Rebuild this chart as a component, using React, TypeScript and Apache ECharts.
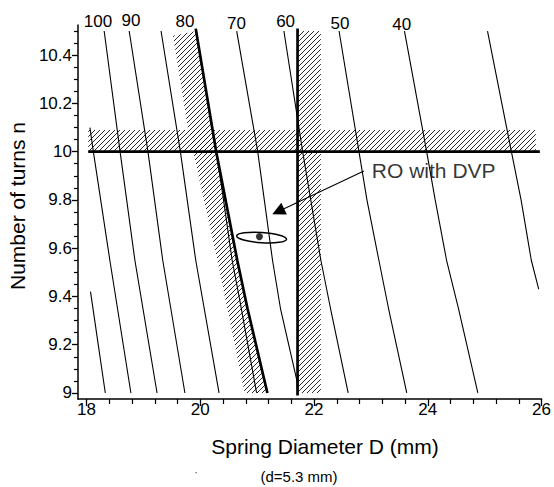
import React, { useEffect, useRef } from 'react';
import * as echarts from 'echarts';

// ---- axes ----
const xRange = [17.85, 26];
const yRange = [8.975, 10.525];
const xMajorTicks = [18, 20, 22, 24, 26];
const xMinorTicks = [18.4, 18.8, 19.2, 19.6, 20.4, 20.8, 21.2, 21.6, 22.4, 22.8, 23.2, 23.6, 24.4, 24.8, 25.2, 25.6];
const yMajorTicks = [9, 9.2, 9.4, 9.6, 9.8, 10, 10.2, 10.4];
const yMinorTicks = [9.05, 9.1, 9.15, 9.25, 9.3, 9.35, 9.45, 9.5, 9.55, 9.65, 9.7, 9.75, 9.85, 9.9, 9.95, 10.05, 10.1, 10.15, 10.25, 10.3, 10.35, 10.45, 10.5];

// ---- contour lines [D, n] ----
const lineShort = [[18.07, 9.42], [18.33, 9.0]];
const line110 = [[18.06, 10.1], [18.12, 10.0], [18.41, 9.55], [18.78, 9.0]];
const line100 = [[18.31, 10.5], [18.59, 10.0], [18.85, 9.55], [19.24, 9.0]];
const line90 = [[18.75, 10.5], [19.08, 10.0], [19.34, 9.55], [19.73, 9.0]];
const line85 = [[19.31, 10.5], [19.65, 10.0], [19.92, 9.55], [20.33, 9.0]];
const line80 = [[19.92, 10.5], [20.28, 10.0], [20.39, 9.83], [20.56, 9.55], [20.69, 9.39], [20.99, 9.0]];
const line70 = [[20.64, 10.5], [21.01, 10.0], [21.27, 9.55], [21.41, 9.35], [21.7, 9.05], [21.71, 9.0]];
const line60 = [[21.47, 10.5], [21.8, 10.0], [22.12, 9.55], [22.29, 9.35], [22.6, 9.0]];
const line50 = [[22.44, 10.5], [22.79, 10.0], [22.93, 9.8], [23.14, 9.55], [23.31, 9.35], [23.63, 9.0]];
const line40 = [[23.59, 10.5], [23.98, 10.0], [24.13, 9.8], [24.33, 9.55], [24.54, 9.35], [24.88, 9.0]];
const line30 = [[25.05, 10.5], [25.47, 10.0], [25.64, 9.8], [25.82, 9.55], [25.95, 9.43]];

// ---- contour labels ----
const contourLabels = ['100', '90', '80', '70', '60', '50', '40'];
const contourLabelD = [18.2, 18.78, 19.73, 20.635, 21.5, 22.456, 23.54];
const contourLabelN = [10.538, 10.542, 10.541, 10.532, 10.54, 10.532, 10.528];

// ---- constraint boundaries (thick) ----
const boundSlanted = [[19.92, 10.51], [20.28, 10.0], [20.65, 9.55], [20.83, 9.35], [21.18, 9.0]];
const boundVertical = [[21.71, 10.51], [21.71, 8.99]];
const boundHorizontal = [[18.03, 10.0], [25.97, 10.0]];

// ---- hatched infeasible bands ----
const hatchHorizontal = [[18.03, 10.0], [25.9, 10.0], [25.9, 10.09], [18.03, 10.09]];
const hatchVertical = [[21.71, 9.0], [22.12, 9.0], [22.12, 10.5], [21.71, 10.5]];
const hatchSlanted = [[19.52, 10.48], [19.93, 10.5], [20.28, 10.0], [20.65, 9.55], [20.83, 9.35], [21.18, 9.0], [20.78, 9.0], [20.3, 9.55], [19.78, 10.1]];

// ---- optimum point with ellipse ----
const optimumPoint = [21.04, 9.648];
const ellipseCenter = [21.078, 9.644];
const ellipseRadius = [0.44, 0.021];
const arrowFrom = [22.876, 9.92];
const arrowTo = [21.37, 9.752];
const annotationText = 'RO with DVP';

const SANS = '"Liberation Sans", Arial, sans-serif';

export default function App() {
  const ref = useRef<HTMLDivElement>(null);
  useEffect(() => {
    document.body.style.margin = '0';
    const tile = document.createElement('canvas');
    tile.width = 5;
    tile.height = 5;
    const ctx = tile.getContext('2d')!;
    ctx.strokeStyle = '#111';
    ctx.lineWidth = 0.9;
    [[-1, 6, 6, -1], [-1, 1, 1, -1], [4, 6, 6, 4]].forEach(([a, b, c, d]) => {
      ctx.beginPath();
      ctx.moveTo(a, b);
      ctx.lineTo(c, d);
      ctx.stroke();
    });
    const pattern: any = { image: tile.toDataURL(), repeat: 'repeat', imageWidth: 5, imageHeight: 5 };

    const chart = echarts.init(ref.current!, null, { renderer: 'svg' });

    const hatch = (poly: number[][]) => ({
      type: 'custom',
      silent: true,
      z: 1,
      clip: false,
      data: [0],
      renderItem: (_p: any, api: any) => ({
        type: 'polygon',
        shape: { points: poly.map((p) => api.coord(p)) },
        style: { fill: pattern, stroke: null },
      }),
    });

    const thin = [lineShort, line110, line100, line90, line85, line80, line70, line60, line50, line40, line30];
    const thick = [boundSlanted, boundVertical, boundHorizontal];

    const axisFont = { fontFamily: SANS, fontSize: 17, color: '#000' };

    const option: any = {
      animation: false,
      grid: { left: 78, top: 25, right: 10.5, bottom: 88 },
      xAxis: [
        {
          type: 'value', min: xRange[0], max: xRange[1],
          axisLine: { show: true, onZero: false, lineStyle: { color: '#000', width: 1.5 } },
          axisTick: { show: true, customValues: xMajorTicks, length: 7, lineStyle: { color: '#000', width: 1.3 } },
          axisLabel: { show: true, customValues: xMajorTicks, margin: 2, ...axisFont },
          splitLine: { show: false },
        },
        {
          type: 'value', min: xRange[0], max: xRange[1], position: 'bottom',
          axisLine: { show: false },
          axisTick: { show: true, customValues: xMinorTicks, length: 5, lineStyle: { color: '#000', width: 1.2 } },
          axisLabel: { show: false },
          splitLine: { show: false },
        },
      ],
      yAxis: [
        {
          type: 'value', min: yRange[0], max: yRange[1],
          axisLine: { show: true, onZero: false, lineStyle: { color: '#000', width: 1.5 } },
          axisTick: { show: true, customValues: yMajorTicks, length: 6, lineStyle: { color: '#000', width: 1.3 } },
          axisLabel: { show: true, customValues: yMajorTicks, margin: 6, ...axisFont },
          splitLine: { show: false },
        },
        {
          type: 'value', min: yRange[0], max: yRange[1], position: 'left',
          axisLine: { show: false },
          axisTick: { show: true, customValues: yMinorTicks, length: 4, lineStyle: { color: '#000', width: 1.2 } },
          axisLabel: { show: false },
          splitLine: { show: false },
        },
      ],
      series: [
        hatch(hatchHorizontal),
        hatch(hatchVertical),
        hatch(hatchSlanted),
        ...thin.map((d) => ({
          type: 'line', data: d, symbol: 'none', silent: true, z: 3,
          lineStyle: { color: '#000', width: 1.1 },
        })),
        ...thick.map((d) => ({
          type: 'line', data: d, symbol: 'none', silent: true, z: 4,
          lineStyle: { color: '#000', width: 2.7 },
        })),
        {
          type: 'scatter', silent: true, clip: false, symbolSize: 0, z: 5,
          data: contourLabels.map((t, i) => [contourLabelD[i], contourLabelN[i], t]),
          label: { show: true, position: 'inside', formatter: (p: any) => p.value[2], fontFamily: SANS, fontSize: 17, color: '#000', opacity: 1 },
        },
        {
          type: 'custom', silent: true, z: 5, clip: false,
          data: [ellipseCenter],
          renderItem: (_p: any, api: any) => {
            const c = api.coord([api.value(0), api.value(1)]);
            const s = api.size(ellipseRadius);
            return {
              type: 'ellipse', x: c[0], y: c[1], rotation: -0.066,
              shape: { cx: 0, cy: 0, rx: s[0], ry: s[1] },
              style: { fill: null, stroke: '#000', lineWidth: 1.5 },
            };
          },
        },
        {
          type: 'scatter', silent: true, z: 6, symbolSize: 7,
          itemStyle: { color: '#000' },
          data: [optimumPoint],
        },
        {
          type: 'lines', coordinateSystem: 'cartesian2d', silent: true, z: 6,
          symbol: ['none', 'triangle'], symbolSize: [8, 13],
          lineStyle: { color: '#000', width: 1.1, opacity: 1 },
          data: [{ coords: [arrowFrom, arrowTo] }],
        },
        {
          type: 'scatter', silent: true, z: 6, symbolSize: 0,
          data: [[arrowFrom[0], arrowFrom[1], annotationText]],
          label: { show: true, position: 'right', distance: 8, formatter: (p: any) => p.value[2], fontFamily: SANS, fontSize: 21, color: '#000' },
        },
      ],
      graphic: [
        {
          type: 'text', x: 325, y: 446,
          style: { text: 'Spring Diameter D (mm)', font: `21px ${SANS}`, fill: '#000', align: 'center', verticalAlign: 'middle', textAlign: 'center', textVerticalAlign: 'middle' },
        },
        {
          type: 'text', x: 299, y: 476,
          style: { text: '(d=5.3 mm)', font: `15px ${SANS}`, fill: '#000', align: 'center', verticalAlign: 'middle', textAlign: 'center', textVerticalAlign: 'middle' },
        },
        {
          type: 'text', x: 17, y: 206, rotation: Math.PI / 2,
          style: { text: 'Number of turns n', font: `21px ${SANS}`, fill: '#000', align: 'center', verticalAlign: 'middle', textAlign: 'center', textVerticalAlign: 'middle' },
        },
        { type: 'rect', shape: { x: 195.5, y: 472, width: 1.3, height: 1.3 }, style: { fill: '#666' } },
      ],
    };
    chart.setOption(option);
    return () => chart.dispose();
  }, []);
  return <div ref={ref} style={{ width: 554, height: 487 }} />;
}
